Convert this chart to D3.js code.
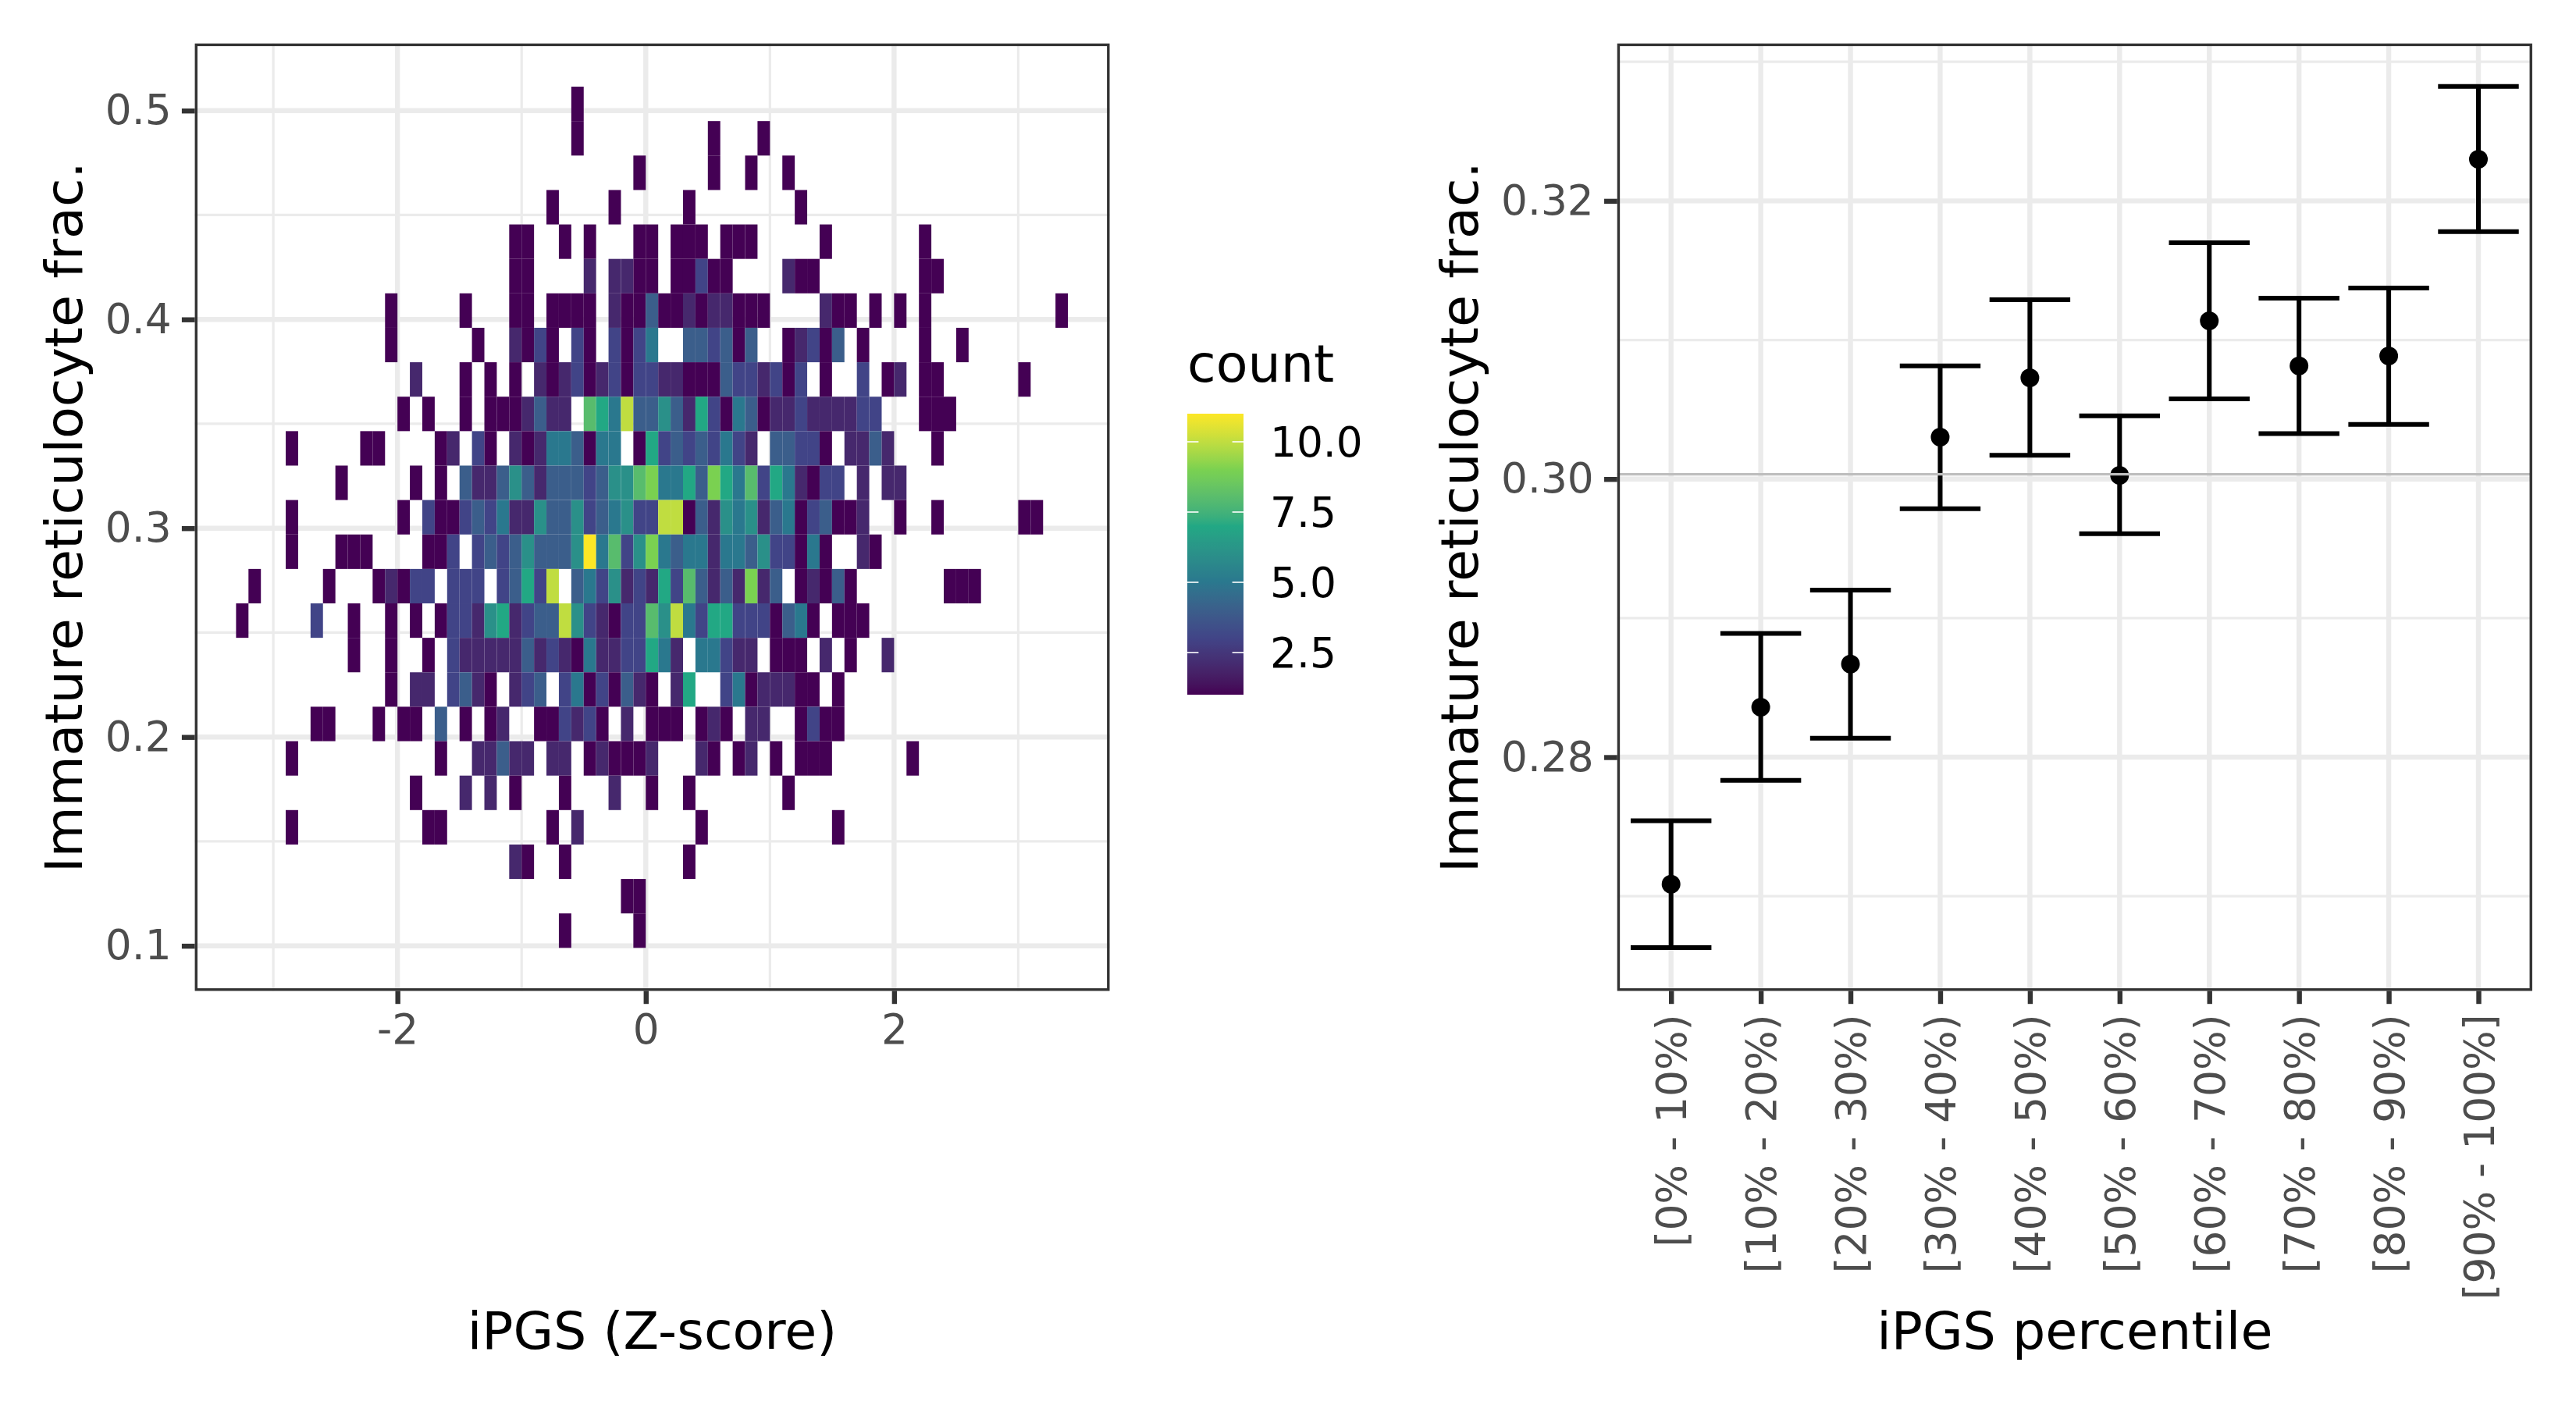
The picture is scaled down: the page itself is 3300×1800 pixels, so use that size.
<!DOCTYPE html>
<html><head><meta charset="utf-8">
<style>html,body{margin:0;padding:0;background:#fff}svg{display:block}text{font-family:"DejaVu Sans",sans-serif}</style>
<script src="https://cdn.jsdelivr.net/npm/d3@7"></script>
</head><body><svg id="c" width="3300" height="1800"></svg>
<script>
// ---------- data: left panel (2-D bins) ----------
const binWidthX = 0.1;
const binTopY = 0.51147;
const binHeightY = 0.016498;
// each row (top to bottom) holds runs: [first column index (x = index*0.1), counts...]
const binRows = [
 [[-6,1]],
 [[-6,1],[5,1],[9,1]],
 [[-1,1],[5,1],[8,1],[11,1]],
 [[-8,1],[-3,1],[3,1],[12,1]],
 [[-11,1,1],[-7,1],[-5,1],[-1,1,1],[2,1,1,1],[6,1,1,1],[14,1],[22,1]],
 [[-11,1,1],[-5,2],[-3,2,2,1,1],[2,1,1,3,1,1],[11,2,1,1],[22,1,1]],
 [[-21,1],[-15,1],[-11,1,1],[-8,1,1,1,1],[-3,2,1,1,4,1,1,2,1,2,2,1,1,1],[14,2,1,1],[18,1],[20,1],[22,1],[33,1]],
 [[-21,1],[-14,1],[-11,2,1,3,1],[-6,3,1],[-3,3,1,3,5],[3,4,4,3,4,1,4],[11,1,2,3,1,4],[17,1],[22,1],[25,1]],
 [[-19,2],[-15,1],[-13,1],[-11,1],[-9,2,1,2,3,1,2,3,1,3,3,2,2,1,1,1,4,3,3,2,3,1,3],[14,1],[17,3],[19,1,2],[22,1,1],[30,1]],
 [[-20,1],[-18,1],[-15,1],[-13,1,1,1,2,4,2,2],[-5,8,7,5,10,4,4,6,4,2,7,3,1,5,4,1,2,2,3,2,2,2,2,3,3],[22,1,1,1]],
 [[-29,1],[-23,1,1],[-17,1,2],[-14,3,1],[-11,2,1,2,5,5,4,1,5,5],[-1,1,7,3,4,3,4,3,5,3,2],[10,4,4,3,3,1],[16,2,2,4,2],[23,1]],
 [[-25,1],[-19,1],[-17,1],[-15,4,2,2,4,6,4,2,4,4,4,3,4,6,6,8,9,5,5,7,4,9,7,5,8,3,7,5,2,1,3,3],[17,2],[19,2,2]],
 [[-29,1],[-20,1],[-18,3,1,1,3,4,3,5,2,2,6,4,4,6,3,4,5,6,3,3,10,10,1,4,2,6,5,6,2,4,5,1,3,4,1,1,2],[20,1],[23,1],[30,1,1]],
 [[-29,1],[-25,1,1,1],[-18,1,1,3],[-14,3,4,3,4,6,4,4,4,6,11,5,8,3,6,9,5,4,5,5,2,5,5,4,6,3,3,1,5,1],[17,2,1]],
 [[-32,1],[-26,1],[-22,1,2,1,3,3],[-16,3,3,3],[-12,3,4,7,3,10],[-6,4,5,3,6,2,3,2,7,3,8,4,2,4,2,9,2,4],[12,1,2,1,4,1],[24,1,1,1]],
 [[-33,1],[-27,3],[-24,1],[-21,1],[-19,1],[-17,1,3,3,2,6,7,2,3,4,4,10,6,3,2,1,3,3,8,6,10,5,3,7,7,3,3,3,1,4,5,1],[15,1,1,1]],
 [[-24,1],[-21,1],[-18,1],[-16,3,2,2,2,2,2,4,2,3,2,1,5,2,2,3,3,7,5,2],[4,5,5,3,2,2],[10,1,1,1],[14,2],[16,1],[19,2]],
 [[-21,1],[-19,2,2],[-16,3,4,2,1],[-11,2,3,4],[-7,3,5,1,3,1,4,2,1],[2,2,7],[6,3,5,1,2,2,2,1,1],[15,1]],
 [[-27,1,1],[-22,1],[-20,1,1],[-17,4],[-15,1],[-13,1,2],[-9,1,1,3,2,3,1],[-2,2],[0,1,1,1],[4,1,2,1],[8,2,2],[12,1,3,1,1]],
 [[-29,1],[-17,1],[-14,2,2,4,2,2],[-8,2,2],[-5,1,2,1,1,1,2],[4,2,1],[7,1,2],[10,1],[12,1,1,1],[21,1]],
 [[-19,1],[-15,2],[-13,2],[-11,1],[-7,1],[-3,2],[0,1],[3,1],[11,1]],
 [[-29,1],[-18,1,1],[-8,1],[-6,2],[4,1],[15,1]],
 [[-11,2,1],[-7,1],[3,1]],
 [[-2,1,1]],
 [[-7,1],[-1,1]]
];
const leftMajorX = [-2,0,2], leftMinorX = [-3,-1,1,3];
const leftMajorY = [0.1,0.2,0.3,0.4,0.5], leftMinorY = [0.15,0.25,0.35,0.45];
const legendTicks = [2.5,5,7.5,10];
const countRange = [1,11];
const viridisStops = ["#440154","#414487","#2A788E","#22A884","#7AD151","#FDE725"];

// ---------- data: right panel ----------
const percentiles = ["[0% - 10%)","[10% - 20%)","[20% - 30%)","[30% - 40%)","[40% - 50%)","[50% - 60%)","[60% - 70%)","[70% - 80%)","[80% - 90%)","[90% - 100%]"];
const meanValues = [0.27086,0.28359,0.28669,0.30301,0.30728,0.30026,0.31138,0.30814,0.30885,0.32300];
const upperValues = [0.27543,0.28890,0.29201,0.30814,0.31289,0.30455,0.31699,0.31301,0.31374,0.32823];
const lowerValues = [0.26630,0.27833,0.28136,0.29787,0.30171,0.29607,0.30576,0.30327,0.30393,0.31779];
const overallMean = 0.30034;
const rightMajorY = [0.28,0.30,0.32], rightMinorY = [0.27,0.29,0.31,0.33];

// ---------- layout ----------
const pTop=55.7, pBottom=1269.5;
const L={x0:249.6,x1:1421.5}, R={x0:2071.75,x1:3243.95};
const majorW=6.4, minorW=3.2, gridCol="#EBEBEB", darkCol="#333333", tickTextCol="#4D4D4D";
const tickLen=16.7, tickPad=13.3, tickFont=53.33, titleFont=66.67, borderW=3.4;

const svg=d3.select("#c");
svg.append("rect").attr("width",3300).attr("height",1800).attr("fill","#fff");

const xL=d3.scaleLinear().domain([-3.632,3.736]).range([L.x0,L.x1]);
const yL=d3.scaleLinear().domain([0.0784,0.53215]).range([pBottom,pTop]);
const xR=d3.scalePoint().domain(percentiles).range([R.x0,R.x1]).padding(0.6);
const yR=d3.scaleLinear().domain([0.26319,0.33132]).range([pBottom,pTop]);

const colDomain=viridisStops.map((_,i)=>countRange[0]+i*(countRange[1]-countRange[0])/(viridisStops.length-1));
const colour=d3.scaleLinear().domain(colDomain).range(viridisStops).interpolate(d3.interpolateLab);

function hline(g,vals,scale,p,w){
  g.selectAll(null).data(vals).join("line").attr("x1",p.x0).attr("x2",p.x1)
   .attr("y1",d=>scale(d)).attr("y2",d=>scale(d)).attr("stroke",gridCol).attr("stroke-width",w);
}
function vline(g,vals,scale,w){
  g.selectAll(null).data(vals).join("line").attr("y1",pTop).attr("y2",pBottom)
   .attr("x1",d=>scale(d)).attr("x2",d=>scale(d)).attr("stroke",gridCol).attr("stroke-width",w);
}
function border(p){
  svg.append("rect").attr("x",p.x0+borderW/2).attr("y",pTop+borderW/2).attr("width",p.x1-p.x0-borderW).attr("height",pBottom-pTop-borderW)
   .attr("fill","none").attr("stroke",darkCol).attr("stroke-width",borderW);
}
function styleAxis(g){
  g.select(".domain").remove();
  g.selectAll(".tick line").attr("stroke",darkCol).attr("stroke-width",majorW);
  g.selectAll(".tick text").attr("fill",tickTextCol).style("font-size",tickFont+"px").style("font-family",'"DejaVu Sans"');
}
function title(txt,x,y,rot){
  const t=svg.append("text").attr("text-anchor","middle").attr("fill","#000").style("font-size",titleFont+"px").text(txt);
  if(rot) t.attr("transform",`translate(${x},${y}) rotate(-90)`); else t.attr("x",x).attr("y",y);
}

// ---------- left panel ----------
const gL=svg.append("g");
vline(gL,leftMinorX,xL,minorW); hline(gL,leftMinorY,yL,L,minorW);
vline(gL,leftMajorX,xL,majorW); hline(gL,leftMajorY,yL,L,majorW);
const cells=[];
binRows.forEach((runs,r)=>runs.forEach(run=>{
  run.slice(1).forEach((n,i)=>cells.push({col:run[0]+i,row:r,n}));
}));
gL.append("g").selectAll("rect").data(cells).join("rect")
  .attr("x",d=>xL(d.col*binWidthX)).attr("width",d=>xL((d.col+1)*binWidthX)-xL(d.col*binWidthX))
  .attr("y",d=>yL(binTopY-d.row*binHeightY)).attr("height",d=>yL(binTopY-(d.row+1)*binHeightY)-yL(binTopY-d.row*binHeightY))
  .attr("fill",d=>colour(d.n));
border(L);
svg.append("g").attr("transform",`translate(${L.x0},0)`)
  .call(d3.axisLeft(yL).tickValues(leftMajorY).tickFormat(d=>d.toFixed(1)).tickSize(tickLen).tickPadding(tickPad)).call(styleAxis);
svg.append("g").attr("transform",`translate(0,${pBottom})`)
  .call(d3.axisBottom(xL).tickValues(leftMajorX).tickFormat(d=>String(d)).tickSize(tickLen).tickPadding(tickPad)).call(styleAxis);
title("Immature reticulocyte frac.",105,662.6,true);
title("iPGS (Z-score)",835.5,1728,false);

// ---------- legend ----------
const legX=1521, legW=72;
const yLeg=d3.scaleLinear().domain(countRange).range([890,530]);
const defs=svg.append("defs");
const lg=defs.append("linearGradient").attr("id","vir").attr("x1",0).attr("x2",0).attr("y1",1).attr("y2",0);
d3.range(0,101).forEach(i=>{const t=i/100;
  lg.append("stop").attr("offset",t).attr("stop-color",colour(countRange[0]+t*(countRange[1]-countRange[0])));});
svg.append("rect").attr("x",legX).attr("y",yLeg(countRange[1])).attr("width",legW).attr("height",yLeg(countRange[0])-yLeg(countRange[1])).attr("fill","url(#vir)");
const lt=svg.append("g").selectAll("g").data(legendTicks).join("g");
lt.append("line").attr("x1",legX).attr("x2",legX+14.4).attr("y1",d=>yLeg(d)).attr("y2",d=>yLeg(d)).attr("stroke","#fff").attr("stroke-width",1.6);
lt.append("line").attr("x1",legX+legW-14.4).attr("x2",legX+legW).attr("y1",d=>yLeg(d)).attr("y2",d=>yLeg(d)).attr("stroke","#fff").attr("stroke-width",1.6);
lt.append("text").attr("x",1627).attr("y",d=>yLeg(d)).attr("dy",".36em").attr("fill","#000").style("font-size",tickFont+"px").text(d=>d.toFixed(1));
svg.append("text").attr("x",1521).attr("y",489).attr("fill","#000").style("font-size",titleFont+"px").text("count");

// ---------- right panel ----------
const gR=svg.append("g");
hline(gR,rightMinorY,yR,R,minorW);
vline(gR,percentiles,xR,majorW); hline(gR,rightMajorY,yR,R,majorW);
const capHalf=xR.step()*0.45, barW=6;
const ebar=gR.append("g").selectAll("g").data(percentiles).join("g");
ebar.append("line").attr("x1",d=>xR(d)).attr("x2",d=>xR(d)).attr("y1",(d,i)=>yR(upperValues[i])).attr("y2",(d,i)=>yR(lowerValues[i])).attr("stroke","#000").attr("stroke-width",barW);
ebar.append("line").attr("x1",d=>xR(d)-capHalf).attr("x2",d=>xR(d)+capHalf).attr("y1",(d,i)=>yR(upperValues[i])).attr("y2",(d,i)=>yR(upperValues[i])).attr("stroke","#000").attr("stroke-width",barW);
ebar.append("line").attr("x1",d=>xR(d)-capHalf).attr("x2",d=>xR(d)+capHalf).attr("y1",(d,i)=>yR(lowerValues[i])).attr("y2",(d,i)=>yR(lowerValues[i])).attr("stroke","#000").attr("stroke-width",barW);
ebar.append("circle").attr("cx",d=>xR(d)).attr("cy",(d,i)=>yR(meanValues[i])).attr("r",12).attr("fill","#000");
gR.append("line").attr("x1",R.x0).attr("x2",R.x1).attr("y1",yR(overallMean)).attr("y2",yR(overallMean)).attr("stroke","#BEBEBE").attr("stroke-width",3.2);
border(R);
svg.append("g").attr("transform",`translate(${R.x0},0)`)
  .call(d3.axisLeft(yR).tickValues(rightMajorY).tickFormat(d=>d.toFixed(2)).tickSize(tickLen).tickPadding(tickPad)).call(styleAxis);
svg.append("g").attr("transform",`translate(0,${pBottom})`)
  .call(d3.axisBottom(xR).tickSize(tickLen).tickPadding(tickPad)).call(styleAxis)
  .selectAll(".tick text").attr("text-anchor","end").attr("transform","rotate(-90)")
  .attr("x",-(tickLen+tickPad)).attr("y",0).attr("dy",".36em");
title("Immature reticulocyte frac.",1893,662.6,true);
title("iPGS percentile",2657.8,1728,false);
</script></body></html>
